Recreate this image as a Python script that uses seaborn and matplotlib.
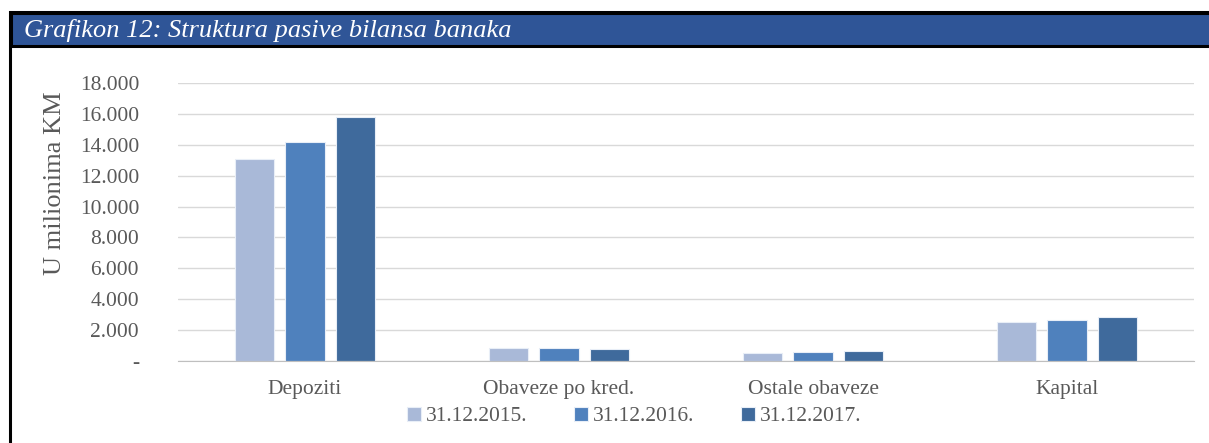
import matplotlib
matplotlib.use("Agg")
import matplotlib.pyplot as plt
import seaborn as sns
import pandas as pd
from matplotlib.patches import Rectangle
from matplotlib.ticker import FuncFormatter

# podaci (u milionima KM)
kategorije = ["Depoziti", "Obaveze po kred.", "Ostale obaveze", "Kapital"]
godine = ["31.12.2015.", "31.12.2016.", "31.12.2017."]
v2015 = [13100, 860, 545, 2530]
v2016 = [14180, 820, 600, 2680]
v2017 = [15800, 780, 650, 2830]
boje = ["#A9B9D8", "#4F81BD", "#3F6A9C"]

rows = []
for g, vals in zip(godine, [v2015, v2016, v2017]):
    for k, v in zip(kategorije, vals):
        rows.append({"kategorija": k, "godina": g, "vrijednost": v})
df = pd.DataFrame(rows)

sns.set_style("white")
plt.rcParams["font.family"] = ["Liberation Serif", "DejaVu Serif"]

fig = plt.figure(figsize=(12.09, 4.43), dpi=100)
W, H = 1209, 443

# okvir i naslovna traka
fig.patches.append(Rectangle((10 / W, -0.1), 1.2, (443 - 12) / H + 0.1, transform=fig.transFigure,
                             facecolor="none", edgecolor="black", linewidth=2.2, zorder=0))
fig.patches.append(Rectangle((11 / W, (443 - 46) / H), 1.2, 33 / H, transform=fig.transFigure,
                             facecolor="#2F5597", edgecolor="black", linewidth=2.2, zorder=1))
fig.text(24 / W, (443 - 30) / H, "Grafikon 12: Struktura pasive bilansa banaka", color="white",
         fontsize=19, fontstyle="italic", va="center", ha="left")

ax = fig.add_axes([178 / W, 82 / H, 1016 / W, 278 / H])
sns.barplot(data=df, x="kategorija", y="vrijednost", hue="godina", palette=boje,
            width=0.6, gap=0.23, ax=ax, saturation=1, edgecolor="#E8EEF7", linewidth=0.8)

ax.set_ylim(0, 18000)
ax.set_yticks(range(0, 18001, 2000))
ax.yaxis.set_major_formatter(FuncFormatter(lambda v, p: "-" if v == 0 else f"{int(v):,}".replace(",", ".")))
ax.grid(axis="y", color="#D9D9D9", linewidth=1)
ax.set_axisbelow(True)
for s in ["top", "right", "left"]:
    ax.spines[s].set_visible(False)
ax.spines["bottom"].set_color("#BFBFBF")
ax.tick_params(axis="y", length=0, pad=28, labelsize=15.5, labelcolor="#595959")
ax.tick_params(axis="x", length=0, pad=14, labelsize=15.5, labelcolor="#595959")
ax.set_xlabel("")
ax.set_ylabel("U milionima KM", fontsize=19, color="#595959")
ax.yaxis.set_label_coords(-112 / 1016, 0.64)

leg = ax.legend(loc="center", bbox_to_anchor=(0.449, -0.2), ncol=3, frameon=False,
                fontsize=15.5, handlelength=0.65, handleheight=0.65, handletextpad=0.2, columnspacing=2.2)
for t in leg.get_texts():
    t.set_color("#595959")

fig.savefig("out.png", dpi=100)
